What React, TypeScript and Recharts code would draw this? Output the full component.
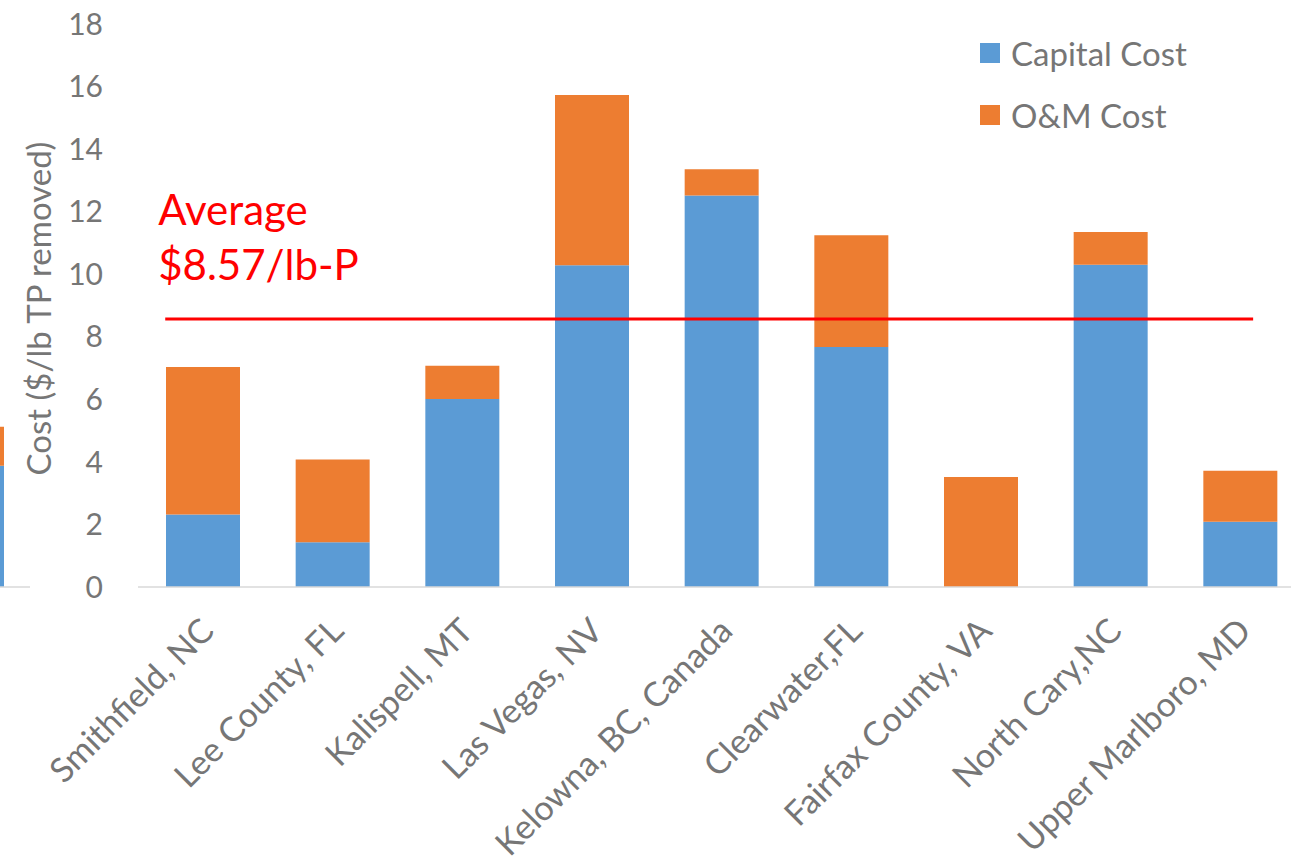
import React from 'react';
import { BarChart, Bar, XAxis, YAxis, ReferenceLine, Legend } from 'recharts';

// Cost per pound of total phosphorus removed, by facility
const sites = [
  'Smithfield, NC',
  'Lee County, FL',
  'Kalispell, MT',
  'Las Vegas, NV',
  'Kelowna, BC, Canada',
  'Clearwater,FL',
  'Fairfax County, VA',
  'North Cary,NC',
  'Upper Marlboro, MD',
];
const capitalCost = [2.32, 1.43, 6.01, 10.29, 12.52, 7.67, 0, 10.3, 2.09];
const omCost = [4.71, 2.65, 1.06, 5.44, 0.84, 3.58, 3.52, 1.05, 1.63];
const yTicks = [0, 2, 4, 6, 8, 10, 12, 14, 16, 18];
const AVERAGE = 8.57;

// Edge of the neighbouring panel that shows at the far left
const neighbourCapital = [3.88];
const neighbourOm = [1.24];

const BLUE = '#5B9BD5';
const ORANGE = '#ED7D31';
const RED = '#FF0000';
const GREY = '#767676';
const AXIS = '#D9D9D9';
const FONT = 'Lato, "Open Sans", sans-serif';

const rows = sites.map((site, i) => ({
  site,
  capital: capitalCost[i],
  om: omCost[i],
}));

const neighbourRows = neighbourCapital.map((c, i) => ({
  k: String(i),
  capital: c,
  om: neighbourOm[i],
}));

const SiteTick = (props: any) => {
  const { x, y, payload } = props;
  return (
    <g transform={`translate(${x + 13},${y + 46})`}>
      <text
        transform="rotate(-45)"
        textAnchor="end"
        fill={GREY}
        fontSize={34}
        fontFamily={FONT}
      >
        {payload.value}
      </text>
    </g>
  );
};

const AverageMarker = (props: any) => {
  const x1 = Number(props.x1);
  const x2 = Number(props.x2);
  const y = Number(props.y1);
  const band = (x2 - x1) / sites.length;
  const start = x1 + band * 0.21;
  const end = x2 - band * 0.4;
  return (
    <g>
      <line x1={start} x2={end} y1={y} y2={y} stroke={RED} strokeWidth={3} />
      <text x={start - 7} y={y - 94} fill={RED} fontSize={42} fontFamily={FONT}>
        Average
      </text>
      <text x={start - 7} y={y - 39} fill={RED} fontSize={42} fontFamily={FONT}>
        {`$${AVERAGE.toFixed(2)}/lb-P`}
      </text>
    </g>
  );
};

const LegendBlock = (props: any) => {
  const payload = props.payload || [];
  return (
    <div style={{ fontFamily: FONT }}>
      {payload.map((entry: any) => (
        <div
          key={entry.value}
          style={{ display: 'flex', alignItems: 'center', height: 62 }}
        >
          <span
            style={{
              display: 'inline-block',
              width: 20,
              height: 20,
              background: entry.color,
              marginRight: 11,
            }}
          />
          <span style={{ color: GREY, fontSize: 33, lineHeight: '33px' }}>
            {entry.value}
          </span>
        </div>
      ))}
    </div>
  );
};

const AxisTitle = (props: any) => {
  const vb = props.viewBox || { x: 0, y: 24, width: 138, height: 563 };
  const cx = vb.x + 38;
  const cy = vb.y + vb.height / 2 + 3;
  return (
    <text
      x={cx}
      y={cy}
      transform={`rotate(-90 ${cx} ${cy})`}
      textAnchor="middle"
      dominantBaseline="central"
      fill={GREY}
      fontSize={33}
      fontFamily={FONT}
    >
      Cost ($/lb TP removed)
    </text>
  );
};

export default function App() {
  return (
    <div
      style={{
        position: 'fixed',
        left: 0,
        top: 0,
        width: 1291,
        height: 865,
        overflow: 'hidden',
        background: '#ffffff',
      }}
    >
      <div style={{ position: 'absolute', left: -70, top: 0 }}>
        <BarChart
          width={100}
          height={865}
          data={neighbourRows}
          margin={{ top: 24, right: 0, left: 0, bottom: 0 }}
        >
          <XAxis
            dataKey="k"
            height={278}
            tick={false}
            tickLine={false}
            axisLine={{ stroke: AXIS, strokeWidth: 1.5 }}
          />
          <YAxis hide domain={[0, 18]} />
          <Bar dataKey="capital" stackId="c" fill={BLUE} barSize={48} isAnimationActive={false} />
          <Bar dataKey="om" stackId="c" fill={ORANGE} barSize={48} isAnimationActive={false} />
        </BarChart>
      </div>
      <div style={{ position: 'absolute', left: 0, top: 0 }}>
        <BarChart
          width={1305}
          height={865}
          data={rows}
          margin={{ top: 24, right: 0, left: 0, bottom: 0 }}
        >
          <XAxis
            dataKey="site"
            height={278}
            interval={0}
            tickLine={false}
            tickSize={0}
            tickMargin={0}
            axisLine={{ stroke: AXIS, strokeWidth: 1.5 }}
            tick={<SiteTick />}
          />
          <YAxis
            width={138}
            domain={[0, 18]}
            ticks={yTicks}
            interval={0}
            axisLine={false}
            tickLine={false}
            tickSize={0}
            tickMargin={35}
            tick={{ fill: GREY, fontSize: 30, fontFamily: FONT }}
            label={{ content: (p: any) => <AxisTitle {...p} /> }}
          />
          <Legend
            layout="vertical"
            align="center"
            verticalAlign="middle"
            wrapperStyle={{ top: 22, left: 980, width: 300 }}
            content={(p: any) => <LegendBlock {...p} />}
          />
          <Bar
            dataKey="capital"
            name="Capital Cost"
            stackId="cost"
            fill={BLUE}
            barSize={74}
            isAnimationActive={false}
          />
          <Bar
            dataKey="om"
            name="O&M Cost"
            stackId="cost"
            fill={ORANGE}
            barSize={74}
            isAnimationActive={false}
          />
          <ReferenceLine y={AVERAGE} shape={(p: any) => <AverageMarker {...p} />} />
        </BarChart>
      </div>
    </div>
  );
}
